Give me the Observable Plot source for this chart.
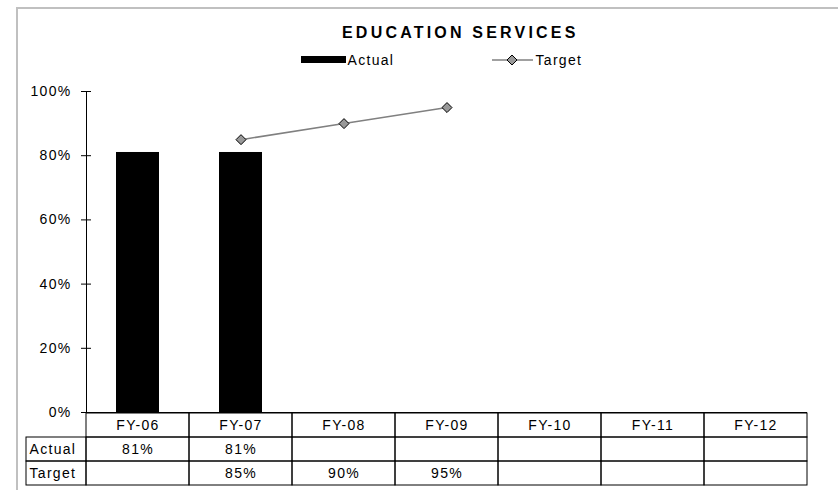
<!DOCTYPE html>
<html><head><meta charset="utf-8">
<script src="https://cdn.jsdelivr.net/npm/d3@7"></script>
<script src="https://cdn.jsdelivr.net/npm/@observablehq/plot@0.6"></script>
<style>
html,body{margin:0;padding:0;background:#fff;overflow:hidden;}
#wrap{position:relative;width:838px;height:490px;font-family:"Liberation Sans",Arial,sans-serif;}
#frame{position:absolute;left:16px;top:7px;width:900px;height:600px;border-left:2px solid #c0c0c0;border-top:2px solid #c0c0c0;}
.layer{position:absolute;left:0;top:0;}
svg text{letter-spacing:1.3px;}
#title{position:absolute;left:342px;top:25px;font-size:16px;line-height:16px;font-weight:bold;letter-spacing:3.2px;white-space:nowrap;color:#000;}
#legend{position:absolute;left:0;top:0;}
#legend text{font-family:"Liberation Sans",Arial,sans-serif;font-size:14px;letter-spacing:1.3px;fill:#000;}
</style></head><body>
<div id="wrap">
  <div id="frame"></div>
  <div id="main" class="layer"></div>
  <div id="table" class="layer" style="top:411px"></div>
  <div id="labels" class="layer" style="top:411px"></div>
  <div id="title">EDUCATION SERVICES</div>
  <svg id="legend" width="838" height="80">
    <rect x="301" y="56" width="45" height="7" fill="#000"></rect>
    <text x="347.5" y="64.7">Actual</text>
    <line x1="492" x2="533" y1="60" y2="60" stroke="#808080" stroke-width="1.5"></line>
    <path d="M512,55L517,60L512,65L507,60Z" fill="#999" stroke="#000" stroke-width="1"></path>
    <text x="535.5" y="64.7">Target</text>
  </svg>
</div>
<script>
const categories = ["FY-06","FY-07","FY-08","FY-09","FY-10","FY-11","FY-12"];
const actual = [0.81, 0.81, null, null, null, null, null];
const target = [null, 0.85, 0.90, 0.95, null, null, null];
const yTicks = [0, 0.2, 0.4, 0.6, 0.8, 1.0];
const rowLabels = ["Actual", "Target"];
const headerKey = "header";

const pct = d3.format(".0%");
const rows = categories.map((c, i) => ({cat: c, actual: actual[i], target: target[i]}));
const bars = rows.filter(d => d.actual != null);
const tgt = rows.filter(d => d.target != null);
const font = {background: "transparent", fontFamily: "Liberation Sans, Arial, sans-serif", fontSize: "14px", color: "#000", overflow: "visible"};

const main = Plot.plot({
  width: 838, height: 420,
  marginTop: 91, marginBottom: 8, marginLeft: 86, marginRight: 31,
  style: font,
  x: {domain: categories, paddingInner: 0.58, paddingOuter: 0.29, axis: null},
  y: {domain: [0, 1], axis: null},
  marks: [
    Plot.barY(bars, {x: "cat", y: "actual", fill: "#000"}),
    Plot.ruleY([0], {stroke: "#000", strokeWidth: 1}),
    Plot.frame({anchor: "left", stroke: "#000"}),
    Plot.axisY(yTicks, {tickFormat: pct, tickSize: 10, dx: 5, tickPadding: 10, stroke: "#000", fill: "#000", strokeOpacity: 1}),
    Plot.line(tgt, {x: "cat", y: "target", stroke: "#808080", strokeWidth: 1.5}),
    Plot.dot(tgt, {x: "cat", y: "target", symbol: "diamond2", r: 4.5, fill: "#999", stroke: "#000", strokeWidth: 1})
  ]
});
document.getElementById("main").appendChild(main);

const rowKeys = [headerKey, ...rowLabels];
const cells = [];
categories.forEach((c, i) => {
  cells.push({cat: c, row: headerKey, text: c});
  cells.push({cat: c, row: rowLabels[0], text: actual[i] == null ? "" : pct(actual[i])});
  cells.push({cat: c, row: rowLabels[1], text: target[i] == null ? "" : pct(target[i])});
});

const table = Plot.plot({
  width: 838, height: 76,
  marginTop: 1, marginBottom: 1, marginLeft: 86, marginRight: 31,
  style: font,
  x: {domain: categories, padding: 0, axis: null},
  y: {domain: rowKeys, padding: 0, axis: null},
  marks: [
    Plot.cell(cells, {x: "cat", y: "row", fill: "none", stroke: "#000", strokeWidth: 1}),
    Plot.text(cells, {x: "cat", y: "row", text: "text", fill: "#000"})
  ]
});
document.getElementById("table").appendChild(table);

const labelCells = rowLabels.map(r => ({col: "label", row: r}));
const labels = Plot.plot({
  width: 86, height: 76,
  marginTop: 1, marginBottom: 1, marginLeft: 26, marginRight: 0,
  style: font,
  x: {domain: ["label"], padding: 0, axis: null},
  y: {domain: rowKeys, padding: 0, axis: null},
  marks: [
    Plot.cell(labelCells, {x: "col", y: "row", fill: "none", stroke: "#000", strokeWidth: 1}),
    Plot.text(labelCells, {y: "row", text: "row", frameAnchor: "left", textAnchor: "start", dx: 3, fill: "#000"})
  ]
});
document.getElementById("labels").appendChild(labels);
</script>
</body></html>
